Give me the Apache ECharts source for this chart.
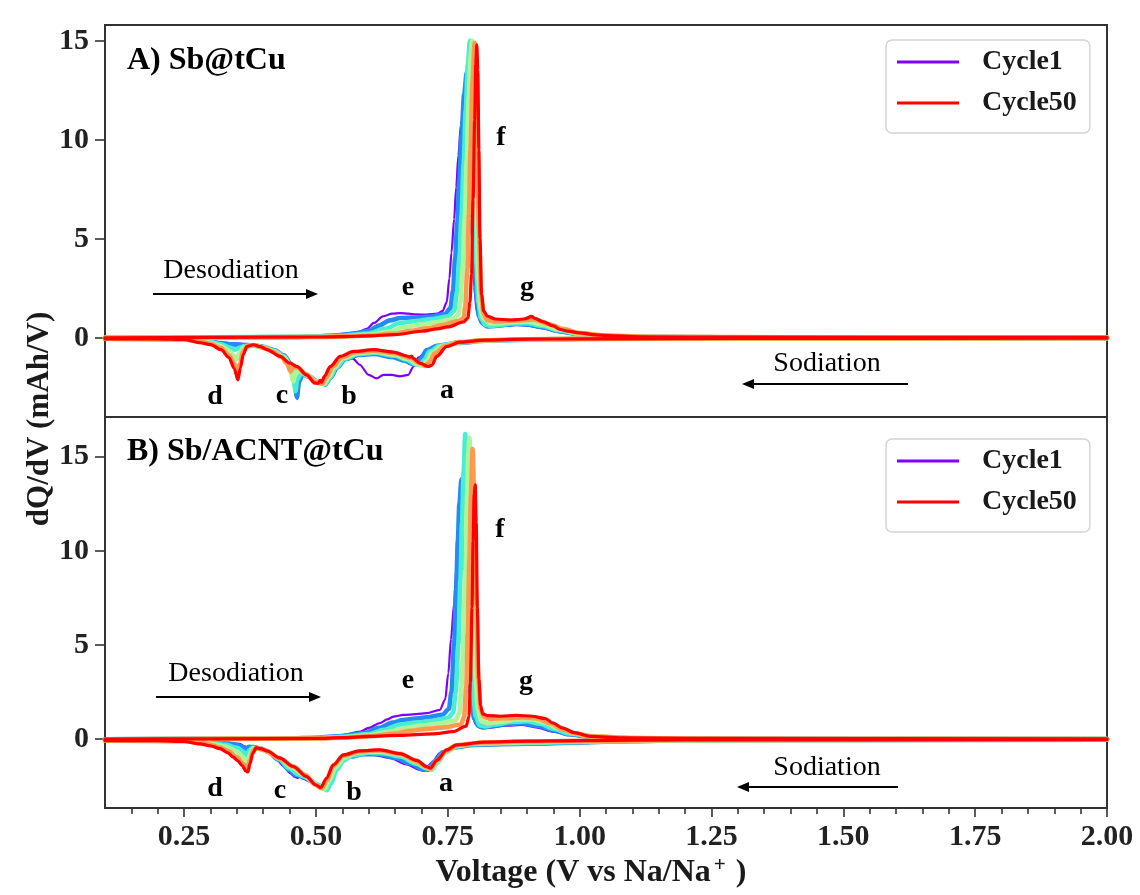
<!DOCTYPE html>
<html>
<head>
<meta charset="utf-8">
<title>dQ/dV profiles</title>
<script src="https://cdn.jsdelivr.net/npm/echarts@6/dist/echarts.min.js"></script>
<style>
  html, body { margin: 0; padding: 0; background: #fff; }
  #chart { width: 1140px; height: 895px; }
</style>
</head>
<body>
<div id="chart"></div>
<script>
// ---------- data: [voltage (V), dQ/dV (mAh/V)] ----------
const cycles = [1, 10, 20, 30, 40, 50];
const xMajorTicks = [0.25, 0.5, 0.75, 1.0, 1.25, 1.5, 1.75, 2.0];
const xMinorTicks = [0.15, 0.2, 0.3, 0.35, 0.4, 0.45, 0.55, 0.6, 0.65, 0.7, 0.8, 0.85, 0.9, 0.95,
  1.05, 1.1, 1.15, 1.2, 1.3, 1.35, 1.4, 1.45, 1.55, 1.6, 1.65, 1.7, 1.8, 1.85, 1.9, 1.95];
const yTicks = [0, 5, 10, 15];

// Panel A: Sb@tCu, desodiation (positive) branches
const sbCharge1 = [[0.10,0.00],[0.30,0.02],[0.45,0.05],[0.50,0.08],[0.533,0.15],[0.56,0.22],[0.58,0.30],[0.596,0.45],[0.61,0.75],[0.627,1.08],[0.645,1.22],[0.66,1.25],[0.675,1.22],[0.69,1.18],[0.71,1.17],[0.73,1.22],[0.74,1.35],[0.748,1.80],[0.753,3.0],[0.757,4.3],[0.762,6.0],[0.766,7.6],[0.770,9.2],[0.775,10.8],[0.781,11.6],[0.786,11.0],[0.791,8.5],[0.796,5.0],[0.800,2.6],[0.805,1.3],[0.812,0.80],[0.82,0.60],[0.835,0.55],[0.86,0.60],[0.88,0.65],[0.90,0.62],[0.93,0.48],[0.96,0.30],[1.00,0.15],[1.05,0.07],[1.15,0.03],[1.40,0.02],[2.00,0.01]];
const sbCharge10 = [[0.10,0.00],[0.30,0.02],[0.45,0.04],[0.50,0.07],[0.54,0.13],[0.57,0.20],[0.60,0.35],[0.62,0.62],[0.64,0.88],[0.66,1.00],[0.69,1.02],[0.72,1.08],[0.745,1.20],[0.755,1.50],[0.760,2.4],[0.764,4.0],[0.768,5.8],[0.772,8.0],[0.776,10.2],[0.781,12.3],[0.786,13.4],[0.790,12.5],[0.795,9.0],[0.800,4.8],[0.804,2.2],[0.809,1.10],[0.816,0.72],[0.825,0.58],[0.84,0.60],[0.86,0.66],[0.88,0.70],[0.90,0.68],[0.93,0.54],[0.96,0.34],[1.00,0.17],[1.05,0.08],[1.15,0.04],[1.40,0.02],[2.00,0.01]];
const sbCharge20 = [[0.10,0.00],[0.30,0.02],[0.50,0.06],[0.55,0.10],[0.60,0.22],[0.63,0.45],[0.66,0.75],[0.69,0.85],[0.72,0.95],[0.75,1.08],[0.762,1.35],[0.767,2.2],[0.772,4.0],[0.776,6.2],[0.780,8.8],[0.784,11.5],[0.788,13.8],[0.792,15.0],[0.796,13.5],[0.800,8.5],[0.804,3.8],[0.808,1.8],[0.813,1.00],[0.82,0.68],[0.83,0.60],[0.85,0.65],[0.87,0.72],[0.90,0.74],[0.93,0.60],[0.96,0.38],[1.00,0.19],[1.05,0.09],[1.15,0.04],[1.40,0.02],[2.00,0.01]];
const sbCharge30 = [[0.10,0.00],[0.30,0.02],[0.50,0.05],[0.55,0.08],[0.60,0.16],[0.64,0.32],[0.67,0.55],[0.70,0.68],[0.73,0.80],[0.76,0.95],[0.770,1.15],[0.774,1.8],[0.778,3.5],[0.782,6.0],[0.786,9.0],[0.790,12.2],[0.793,14.2],[0.796,15.0],[0.800,12.5],[0.804,7.0],[0.808,3.0],[0.812,1.5],[0.818,0.95],[0.83,0.72],[0.85,0.74],[0.87,0.80],[0.90,0.82],[0.93,0.66],[0.96,0.42],[1.00,0.21],[1.05,0.10],[1.15,0.04],[1.40,0.02],[2.00,0.01]];
const sbCharge40 = [[0.10,0.00],[0.30,0.02],[0.50,0.04],[0.55,0.07],[0.60,0.12],[0.65,0.22],[0.68,0.35],[0.71,0.48],[0.74,0.65],[0.77,0.85],[0.780,1.0],[0.783,1.6],[0.787,3.5],[0.790,6.2],[0.793,9.5],[0.797,13.0],[0.801,14.9],[0.805,12.0],[0.809,5.5],[0.813,2.2],[0.818,1.2],[0.825,0.90],[0.84,0.82],[0.87,0.86],[0.90,0.90],[0.915,0.92],[0.94,0.70],[0.97,0.44],[1.00,0.24],[1.05,0.11],[1.15,0.05],[1.40,0.02],[2.00,0.01]];
const sbCharge50 = [[0.10,0.00],[0.30,0.02],[0.50,0.04],[0.55,0.06],[0.60,0.10],[0.65,0.16],[0.70,0.33],[0.73,0.45],[0.75,0.55],[0.78,0.80],[0.788,1.0],[0.792,1.8],[0.795,3.2],[0.798,7.0],[0.801,11.0],[0.803,13.8],[0.805,14.8],[0.807,13.5],[0.809,9.5],[0.811,5.0],[0.814,2.2],[0.818,1.35],[0.825,1.10],[0.84,0.95],[0.87,0.90],[0.895,0.95],[0.909,1.08],[0.915,0.98],[0.93,0.82],[0.95,0.60],[0.963,0.42],[0.98,0.32],[1.00,0.25],[1.03,0.15],[1.063,0.10],[1.12,0.05],[1.30,0.03],[2.00,0.02]];

// Panel A: Sb@tCu, sodiation (negative) branches
const sbDischarge1 = [[0.10,-0.05],[0.25,-0.06],[0.28,-0.12],[0.30,-0.18],[0.33,-0.25],[0.36,-0.30],[0.39,-0.36],[0.42,-0.60],[0.44,-0.85],[0.452,-1.3],[0.459,-2.0],[0.465,-3.1],[0.469,-2.2],[0.476,-1.85],[0.49,-2.0],[0.505,-2.25],[0.518,-2.35],[0.528,-2.0],[0.54,-1.4],[0.55,-1.05],[0.558,-0.94],[0.57,-1.05],[0.583,-1.36],[0.60,-1.87],[0.615,-2.05],[0.628,-1.87],[0.644,-1.87],[0.659,-1.95],[0.675,-1.87],[0.685,-1.45],[0.694,-1.0],[0.71,-0.69],[0.735,-0.38],[0.76,-0.25],[0.80,-0.15],[0.85,-0.10],[1.00,-0.06],[1.30,-0.03],[2.00,-0.02]];
const sbDischarge10 = [[0.10,-0.05],[0.25,-0.07],[0.28,-0.13],[0.30,-0.20],[0.32,-0.27],[0.34,-0.33],[0.36,-0.36],[0.38,-0.38],[0.40,-0.45],[0.42,-0.62],[0.44,-0.90],[0.452,-1.3],[0.459,-2.0],[0.464,-3.0],[0.468,-2.2],[0.475,-1.85],[0.49,-2.0],[0.505,-2.25],[0.518,-2.35],[0.528,-2.0],[0.54,-1.5],[0.556,-1.08],[0.58,-0.87],[0.61,-0.82],[0.645,-0.97],[0.668,-1.15],[0.683,-1.32],[0.693,-1.33],[0.70,-1.0],[0.71,-0.62],[0.73,-0.40],[0.77,-0.26],[0.82,-0.15],[0.90,-0.09],[1.00,-0.06],[1.30,-0.03],[2.00,-0.02]];
const sbDischarge20 = [[0.10,-0.05],[0.25,-0.07],[0.28,-0.14],[0.30,-0.22],[0.32,-0.33],[0.338,-0.50],[0.346,-0.60],[0.355,-0.50],[0.365,-0.42],[0.38,-0.40],[0.40,-0.47],[0.42,-0.65],[0.44,-0.95],[0.452,-1.4],[0.458,-2.0],[0.461,-2.7],[0.465,-2.1],[0.472,-1.8],[0.487,-1.95],[0.50,-2.2],[0.517,-2.35],[0.527,-2.0],[0.538,-1.5],[0.555,-1.05],[0.58,-0.82],[0.61,-0.75],[0.65,-0.90],[0.672,-1.1],[0.688,-1.33],[0.698,-1.38],[0.706,-1.1],[0.715,-0.70],[0.735,-0.40],[0.77,-0.24],[0.82,-0.14],[0.90,-0.08],[1.00,-0.05],[1.30,-0.03],[2.00,-0.02]];
const sbDischarge30 = [[0.10,-0.05],[0.25,-0.07],[0.28,-0.16],[0.30,-0.25],[0.32,-0.42],[0.335,-0.65],[0.344,-0.90],[0.349,-1.1],[0.355,-0.80],[0.362,-0.50],[0.372,-0.40],[0.385,-0.38],[0.40,-0.48],[0.42,-0.68],[0.44,-1.0],[0.45,-1.4],[0.457,-2.2],[0.462,-1.7],[0.47,-1.7],[0.485,-1.9],[0.50,-2.2],[0.515,-2.33],[0.524,-2.0],[0.535,-1.5],[0.552,-1.02],[0.578,-0.78],[0.61,-0.70],[0.65,-0.85],[0.675,-1.07],[0.693,-1.33],[0.703,-1.4],[0.711,-1.15],[0.72,-0.75],[0.74,-0.40],[0.77,-0.22],[0.82,-0.13],[0.90,-0.08],[1.00,-0.05],[1.30,-0.03],[2.00,-0.02]];
const sbDischarge40 = [[0.10,-0.05],[0.25,-0.07],[0.28,-0.20],[0.30,-0.30],[0.32,-0.52],[0.335,-0.88],[0.345,-1.3],[0.351,-1.75],[0.356,-1.3],[0.362,-0.70],[0.37,-0.42],[0.382,-0.36],[0.40,-0.50],[0.42,-0.72],[0.435,-0.98],[0.445,-1.3],[0.452,-1.7],[0.457,-1.45],[0.465,-1.5],[0.482,-1.85],[0.50,-2.25],[0.512,-2.32],[0.52,-2.0],[0.532,-1.45],[0.55,-0.98],[0.575,-0.73],[0.61,-0.65],[0.65,-0.78],[0.68,-1.02],[0.698,-1.3],[0.708,-1.42],[0.716,-1.2],[0.725,-0.80],[0.745,-0.42],[0.77,-0.22],[0.82,-0.12],[0.90,-0.07],[1.00,-0.05],[1.30,-0.03],[2.00,-0.02]];
const sbDischarge50 = [[0.10,-0.05],[0.20,-0.05],[0.25,-0.08],[0.28,-0.25],[0.30,-0.34],[0.32,-0.60],[0.335,-1.0],[0.345,-1.55],[0.352,-2.12],[0.357,-1.5],[0.362,-0.85],[0.369,-0.44],[0.381,-0.35],[0.395,-0.45],[0.407,-0.60],[0.432,-0.94],[0.451,-1.28],[0.464,-1.45],[0.482,-1.87],[0.498,-2.29],[0.504,-2.3],[0.508,-2.15],[0.511,-2.25],[0.516,-1.95],[0.527,-1.45],[0.546,-0.94],[0.571,-0.69],[0.609,-0.60],[0.647,-0.72],[0.672,-0.92],[0.678,-0.98],[0.681,-0.92],[0.685,-1.05],[0.697,-1.28],[0.713,-1.45],[0.72,-1.38],[0.729,-0.94],[0.748,-0.44],[0.773,-0.22],[0.82,-0.12],[0.90,-0.07],[1.00,-0.05],[1.30,-0.03],[2.00,-0.02]];

// Panel B: Sb/ACNT@tCu, desodiation (positive) branches
const acntCharge1 = [[0.10,0.00],[0.30,0.02],[0.45,0.05],[0.50,0.10],[0.55,0.22],[0.584,0.40],[0.60,0.60],[0.621,0.85],[0.635,1.05],[0.647,1.20],[0.666,1.29],[0.69,1.33],[0.71,1.38],[0.735,1.56],[0.745,2.1],[0.751,3.5],[0.756,5.3],[0.762,7.2],[0.767,9.4],[0.771,10.6],[0.775,11.0],[0.779,9.5],[0.784,6.0],[0.790,2.8],[0.796,1.3],[0.803,0.80],[0.812,0.60],[0.83,0.62],[0.86,0.72],[0.89,0.76],[0.92,0.62],[0.95,0.40],[0.98,0.22],[1.02,0.10],[1.10,0.04],[1.30,0.02],[2.00,0.01]];
const acntCharge10 = [[0.10,0.00],[0.30,0.02],[0.45,0.04],[0.50,0.08],[0.55,0.17],[0.59,0.32],[0.62,0.60],[0.645,0.88],[0.665,1.02],[0.69,1.10],[0.715,1.18],[0.74,1.30],[0.752,1.6],[0.757,2.5],[0.762,5.0],[0.766,8.0],[0.769,10.5],[0.772,12.5],[0.776,13.8],[0.780,12.8],[0.785,8.5],[0.790,4.2],[0.795,2.0],[0.800,1.10],[0.808,0.70],[0.818,0.62],[0.835,0.70],[0.86,0.80],[0.89,0.85],[0.92,0.72],[0.95,0.48],[0.98,0.26],[1.02,0.12],[1.10,0.05],[1.30,0.02],[2.00,0.01]];
const acntCharge20 = [[0.10,0.00],[0.30,0.02],[0.50,0.06],[0.55,0.13],[0.60,0.27],[0.63,0.50],[0.66,0.78],[0.69,0.88],[0.72,0.98],[0.75,1.12],[0.760,1.4],[0.765,2.5],[0.770,5.0],[0.774,8.5],[0.777,11.5],[0.780,14.2],[0.783,16.2],[0.786,14.5],[0.790,9.5],[0.794,5.0],[0.798,2.4],[0.803,1.2],[0.810,0.75],[0.82,0.68],[0.84,0.78],[0.87,0.92],[0.90,0.95],[0.925,0.82],[0.95,0.56],[0.98,0.30],[1.02,0.14],[1.10,0.05],[1.30,0.02],[2.00,0.01]];
const acntCharge30 = [[0.10,0.00],[0.30,0.02],[0.50,0.05],[0.55,0.10],[0.60,0.20],[0.64,0.40],[0.67,0.60],[0.70,0.72],[0.73,0.82],[0.765,1.0],[0.772,1.4],[0.776,2.8],[0.780,5.5],[0.783,9.0],[0.786,12.5],[0.789,15.2],[0.791,16.0],[0.794,13.5],[0.798,8.0],[0.802,3.5],[0.807,1.6],[0.813,1.0],[0.825,0.85],[0.85,0.92],[0.88,1.05],[0.91,1.05],[0.935,0.88],[0.96,0.58],[0.99,0.30],[1.03,0.14],[1.10,0.06],[1.30,0.02],[2.00,0.01]];
const acntCharge40 = [[0.10,0.00],[0.30,0.02],[0.50,0.04],[0.55,0.08],[0.60,0.15],[0.65,0.30],[0.68,0.45],[0.71,0.55],[0.74,0.62],[0.775,0.78],[0.781,1.2],[0.785,2.8],[0.788,5.5],[0.791,9.5],[0.794,13.0],[0.797,15.4],[0.800,13.0],[0.804,7.5],[0.808,3.2],[0.812,1.6],[0.818,1.2],[0.83,1.08],[0.86,1.12],[0.89,1.15],[0.92,1.10],[0.945,0.85],[0.965,0.55],[0.99,0.32],[1.02,0.16],[1.10,0.06],[1.30,0.02],[2.00,0.01]];
const acntCharge50 = [[0.10,0.00],[0.30,0.02],[0.50,0.04],[0.55,0.08],[0.60,0.15],[0.66,0.20],[0.72,0.28],[0.76,0.40],[0.785,0.70],[0.790,1.2],[0.793,3.0],[0.796,7.0],[0.798,10.5],[0.800,13.0],[0.802,13.5],[0.804,11.5],[0.806,7.0],[0.809,3.2],[0.812,1.8],[0.816,1.35],[0.825,1.25],[0.85,1.22],[0.88,1.27],[0.91,1.22],[0.935,1.10],[0.95,0.85],[0.967,0.60],[0.99,0.35],[1.02,0.15],[1.08,0.07],[1.20,0.04],[2.00,0.02]];

// Panel B: Sb/ACNT@tCu, sodiation (negative) branches
const acntDischarge1 = [[0.10,-0.07],[0.25,-0.08],[0.30,-0.14],[0.33,-0.18],[0.355,-0.25],[0.365,-0.38],[0.372,-0.45],[0.38,-0.42],[0.39,-0.45],[0.405,-0.60],[0.426,-1.1],[0.44,-1.45],[0.451,-1.8],[0.46,-2.0],[0.466,-2.05],[0.47,-1.95],[0.476,-2.1],[0.49,-2.25],[0.508,-2.48],[0.515,-2.55],[0.522,-2.3],[0.535,-1.6],[0.546,-1.2],[0.56,-0.95],[0.577,-0.83],[0.609,-0.83],[0.641,-1.0],[0.672,-1.33],[0.697,-1.63],[0.706,-1.68],[0.719,-1.27],[0.735,-0.75],[0.76,-0.49],[0.80,-0.32],[0.90,-0.28],[1.00,-0.21],[1.07,-0.12],[1.15,-0.07],[1.30,-0.03],[2.00,-0.02]];
const acntDischarge10 = [[0.10,-0.07],[0.25,-0.08],[0.30,-0.17],[0.33,-0.22],[0.35,-0.30],[0.36,-0.40],[0.367,-0.55],[0.373,-0.40],[0.382,-0.42],[0.395,-0.50],[0.41,-0.68],[0.43,-1.1],[0.45,-1.65],[0.462,-1.9],[0.475,-2.0],[0.49,-2.2],[0.505,-2.45],[0.517,-2.62],[0.525,-2.3],[0.537,-1.6],[0.55,-1.15],[0.565,-0.92],[0.59,-0.80],[0.62,-0.80],[0.65,-0.98],[0.68,-1.3],[0.703,-1.6],[0.713,-1.62],[0.724,-1.2],[0.74,-0.70],[0.765,-0.42],[0.80,-0.30],[0.90,-0.24],[1.00,-0.17],[1.10,-0.10],[1.20,-0.05],[2.00,-0.02]];
const acntDischarge20 = [[0.10,-0.07],[0.25,-0.09],[0.30,-0.20],[0.33,-0.30],[0.35,-0.45],[0.362,-0.65],[0.368,-0.90],[0.373,-0.60],[0.38,-0.45],[0.39,-0.48],[0.41,-0.66],[0.43,-1.05],[0.45,-1.55],[0.465,-1.85],[0.48,-2.0],[0.50,-2.35],[0.513,-2.6],[0.521,-2.7],[0.528,-2.35],[0.54,-1.6],[0.553,-1.1],[0.57,-0.85],[0.60,-0.72],[0.63,-0.75],[0.66,-0.92],[0.69,-1.3],[0.71,-1.55],[0.72,-1.62],[0.73,-1.25],[0.745,-0.70],[0.768,-0.38],[0.80,-0.26],[0.90,-0.20],[1.00,-0.14],[1.10,-0.08],[1.20,-0.05],[2.00,-0.02]];
const acntDischarge30 = [[0.10,-0.07],[0.25,-0.09],[0.30,-0.24],[0.33,-0.40],[0.35,-0.65],[0.362,-0.95],[0.369,-1.3],[0.374,-0.85],[0.381,-0.48],[0.39,-0.50],[0.41,-0.65],[0.43,-1.0],[0.455,-1.5],[0.475,-1.85],[0.495,-2.3],[0.51,-2.58],[0.517,-2.62],[0.525,-2.2],[0.537,-1.5],[0.553,-0.98],[0.58,-0.70],[0.62,-0.65],[0.66,-0.82],[0.69,-1.2],[0.71,-1.5],[0.719,-1.58],[0.73,-1.2],[0.747,-0.65],[0.768,-0.35],[0.80,-0.22],[0.90,-0.16],[1.00,-0.11],[1.20,-0.05],[2.00,-0.02]];
const acntDischarge40 = [[0.10,-0.07],[0.25,-0.10],[0.28,-0.20],[0.30,-0.29],[0.318,-0.44],[0.333,-0.62],[0.35,-0.95],[0.362,-1.3],[0.370,-1.6],[0.375,-1.1],[0.381,-0.60],[0.388,-0.46],[0.40,-0.55],[0.43,-1.0],[0.457,-1.45],[0.48,-1.9],[0.498,-2.4],[0.511,-2.6],[0.521,-2.15],[0.533,-1.4],[0.552,-0.88],[0.583,-0.65],[0.621,-0.60],[0.66,-0.78],[0.69,-1.15],[0.71,-1.48],[0.718,-1.56],[0.729,-1.15],[0.748,-0.60],[0.767,-0.32],[0.82,-0.17],[0.90,-0.12],[1.00,-0.09],[1.20,-0.04],[2.00,-0.02]];
const acntDischarge50 = [[0.10,-0.07],[0.20,-0.08],[0.25,-0.12],[0.28,-0.25],[0.30,-0.35],[0.318,-0.50],[0.333,-0.72],[0.343,-0.95],[0.352,-1.15],[0.36,-1.4],[0.367,-1.68],[0.371,-1.74],[0.375,-1.3],[0.38,-0.75],[0.387,-0.45],[0.395,-0.50],[0.407,-0.62],[0.432,-1.0],[0.457,-1.45],[0.482,-1.98],[0.50,-2.43],[0.509,-2.57],[0.52,-2.07],[0.533,-1.36],[0.552,-0.83],[0.583,-0.62],[0.621,-0.57],[0.659,-0.76],[0.691,-1.12],[0.71,-1.45],[0.717,-1.54],[0.729,-1.12],[0.748,-0.57],[0.767,-0.30],[0.82,-0.15],[0.90,-0.10],[1.00,-0.07],[1.20,-0.04],[2.00,-0.02]];

const sbCharge = [sbCharge1, sbCharge10, sbCharge20, sbCharge30, sbCharge40, sbCharge50];
const sbDischarge = [sbDischarge1, sbDischarge10, sbDischarge20, sbDischarge30, sbDischarge40, sbDischarge50];
const acntCharge = [acntCharge1, acntCharge10, acntCharge20, acntCharge30, acntCharge40, acntCharge50];
const acntDischarge = [acntDischarge1, acntDischarge10, acntDischarge20, acntDischarge30, acntDischarge40, acntDischarge50];

// ---------- styling ----------
const SERIF = '"Liberation Serif", "Times New Roman", Times, serif';
const INK = '#1a1a1a';
const AXIS = '#333333';

// matplotlib "rainbow" colormap
function rainbow(t) {
  const r = Math.min(1, Math.abs(2 * t - 0.5));
  const g = Math.sin(Math.PI * t);
  const b = Math.cos(Math.PI * t / 2);
  const h = v => Math.round(Math.max(0, Math.min(1, v)) * 255).toString(16).padStart(2, '0');
  return '#' + h(r) + h(g) + h(b);
}

const series = [];
function addPanel(gridIndex, charges, discharges) {
  cycles.forEach((c, i) => {
    const color = rainbow((c - 1) / 49);
    const width = c === 1 ? 2.2 : (c === 50 ? 3.2 : 4.6);
    [charges[i], discharges[i]].forEach(branch => {
      series.push({
        type: 'line',
        name: 'Cycle' + c,
        xAxisIndex: gridIndex === 0 ? 0 : 1,
        yAxisIndex: gridIndex,
        data: branch,
        showSymbol: false,
        symbol: 'none',
        smooth: 0.3,
        smoothMonotone: 'x',
        color: color,
        itemStyle: { color: color },
        lineStyle: { color: color, width: width, cap: 'round', join: 'round' },
        emphasis: { disabled: true },
        silent: true
      });
    });
  });
}
addPanel(0, sbCharge, sbDischarge);
addPanel(1, acntCharge, acntDischarge);

function legendAt(top) {
  return {
    data: ['Cycle1', 'Cycle50'],
    orient: 'vertical',
    left: 886,
    top: top,
    icon: 'rect',
    itemWidth: 62,
    itemHeight: 3,
    itemGap: 11,
    padding: [7, 13, 15, 11],
    borderColor: '#d4d4d4',
    borderWidth: 1.5,
    borderRadius: 6,
    backgroundColor: '#ffffff',
    selectedMode: false,
    textStyle: {
      fontFamily: SERIF, fontWeight: 'bold', fontSize: 28, color: INK,
      lineHeight: 30, padding: [0, 0, 0, 18]
    }
  };
}

const axisTickStyle = { color: AXIS, width: 1.6 };
const tickFont = { fontFamily: SERIF, fontWeight: 'bold', fontSize: 30, color: '#222' };

function arrow(x1, x2, y) {
  const dir = x2 > x1 ? 1 : -1;
  return [
    { type: 'line', shape: { x1: x1, y1: y, x2: x2 - dir * 8, y2: y }, style: { stroke: '#000', lineWidth: 2.2 } },
    { type: 'polygon', shape: { points: [[x2, y], [x2 - dir * 12, y - 5], [x2 - dir * 12, y + 5]] }, style: { fill: '#000' } }
  ];
}
function label(text, x, y, font, align) {
  return {
    type: 'text', x: x, y: y,
    style: { text: text, font: font, fill: '#000', align: align || 'center', verticalAlign: 'middle',
             textAlign: align || 'center', textVerticalAlign: 'middle' }
  };
}
const boldLetter = 'bold 28px ' + SERIF;
const plainNote = '28px ' + SERIF;
const panelFont = 'bold 32px ' + SERIF;

const graphics = [
  label('A) Sb@tCu', 127, 61, panelFont, 'left'),
  label('B) Sb/ACNT@tCu', 127, 452, panelFont, 'left'),
  label('Desodiation', 231, 271, plainNote),
  label('Desodiation', 236, 674, plainNote),
  label('Sodiation', 827, 364, plainNote),
  label('Sodiation', 827, 768, plainNote),
  label('d', 215, 397, boldLetter), label('c', 282, 396, boldLetter),
  label('b', 349, 397, boldLetter), label('a', 447, 391, boldLetter),
  label('e', 408, 288, boldLetter), label('f', 501, 138, boldLetter),
  label('g', 527, 288, boldLetter),
  label('d', 215, 789, boldLetter), label('c', 280, 791, boldLetter),
  label('b', 354, 793, boldLetter), label('a', 446, 784, boldLetter),
  label('e', 408, 681, boldLetter), label('f', 500, 530, boldLetter),
  label('g', 526, 682, boldLetter),
  {
    type: 'text', x: 40, y: 419, rotation: Math.PI / 2,
    style: { text: 'dQ/dV (mAh/V)', font: 'bold 31px ' + SERIF, fill: INK,
             align: 'center', verticalAlign: 'middle', textAlign: 'center', textVerticalAlign: 'middle' }
  }
].concat(arrow(153, 318, 294), arrow(156, 321, 697), arrow(908, 742, 384), arrow(898, 737, 787));

const option = {
  animation: false,
  backgroundColor: '#ffffff',
  legend: [legendAt(40), legendAt(439)],
  grid: [
    { left: 105, right: 33, top: 25, height: 392, show: true, borderColor: AXIS, borderWidth: 2, backgroundColor: 'transparent' },
    { left: 105, right: 33, top: 417, height: 391, show: true, borderColor: AXIS, borderWidth: 2, backgroundColor: 'transparent' }
  ],
  xAxis: [
    { gridIndex: 0, type: 'value', min: 0.1, max: 2.0, position: 'bottom',
      axisLine: { show: false, onZero: false }, axisTick: { show: false }, axisLabel: { show: false }, splitLine: { show: false } },
    { gridIndex: 1, type: 'value', min: 0.1, max: 2.0, position: 'bottom',
      axisLine: { show: false, onZero: false },
      axisTick: { show: true, length: 9, lineStyle: axisTickStyle, customValues: xMajorTicks },
      axisLabel: Object.assign({ customValues: xMajorTicks, margin: 14, showMinLabel: true, showMaxLabel: true,
        formatter: v => v.toFixed(2) }, tickFont),
      splitLine: { show: false },
      name: '{n|Voltage (V vs Na/Na}{s|+}{n| )}',
      nameLocation: 'middle',
      nameGap: 47,
      nameTextStyle: {
        padding: [0, 30, 0, 0],
        rich: {
          n: { fontFamily: SERIF, fontWeight: 'bold', fontSize: 32, color: INK, lineHeight: 36 },
          s: { fontFamily: SERIF, fontWeight: 'bold', fontSize: 21, color: INK, lineHeight: 22, verticalAlign: 'top', padding: [0, 2, 0, 3] }
        }
      } },
    { gridIndex: 1, type: 'value', min: 0.1, max: 2.0, position: 'bottom',
      axisLine: { show: false, onZero: false },
      axisTick: { show: true, length: 6, lineStyle: axisTickStyle, customValues: xMinorTicks },
      axisLabel: { show: false }, splitLine: { show: false } }
  ],
  yAxis: [
    { gridIndex: 0, type: 'value', min: -4.0, max: 15.8, position: 'left',
      axisLine: { show: false, onZero: false },
      axisTick: { show: true, length: 10, lineStyle: axisTickStyle, customValues: yTicks },
      axisLabel: Object.assign({ customValues: yTicks, margin: 16 }, tickFont),
      splitLine: { show: false } },
    { gridIndex: 1, type: 'value', min: -3.65, max: 17.1, position: 'left',
      axisLine: { show: false, onZero: false },
      axisTick: { show: true, length: 10, lineStyle: axisTickStyle, customValues: yTicks },
      axisLabel: Object.assign({ customValues: yTicks, margin: 16 }, tickFont),
      splitLine: { show: false } }
  ],
  graphic: { elements: graphics },
  series: series
};

const chart = echarts.init(document.getElementById('chart'), null, { renderer: 'canvas' });
chart.setOption(option);
</script>
</body>
</html>
